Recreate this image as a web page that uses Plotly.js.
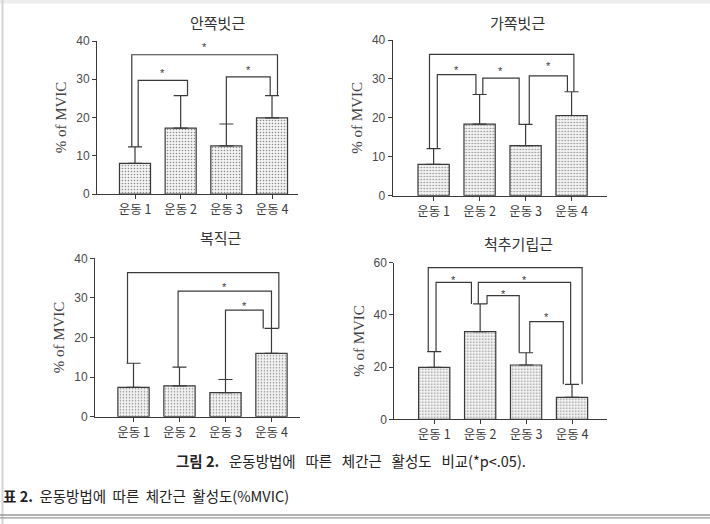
<!DOCTYPE html>
<html>
<head>
<meta charset="utf-8">
<script src="https://cdn.plot.ly/plotly-3.0.1.min.js"></script>
<style>
  html, body { margin: 0; padding: 0; background: #fff; }
  #chart { width: 710px; height: 524px; }
</style>
</head>
<body>
<div id="chart"></div>
<script>
// Exercise conditions (x categories) and muscle names (panel titles)
const categories = ['운동 1', '운동 2', '운동 3', '운동 4'];
const muscles = ['안쪽빗근', '가쪽빗근', '복직근', '척추기립근'];

// Mean %MVIC and standard deviation per exercise, one pair of arrays per muscle
const meanInternalOblique = [8.0, 17.2, 12.6, 19.9];
const sdInternalOblique   = [4.3, 8.5, 5.7, 5.8];
const meanExternalOblique = [8.05, 18.4, 12.85, 20.6];
const sdExternalOblique   = [4.05, 7.6, 5.45, 6.1];
const meanRectusAbdominis = [7.4, 7.8, 6.1, 16.0];
const sdRectusAbdominis   = [6.1, 4.7, 3.3, 6.3];
const meanErectorSpinae   = [19.9, 33.6, 20.8, 8.4];
const sdErectorSpinae     = [6.0, 10.6, 4.7, 5.0];

// Significant pairwise differences (*p<.05), as [from, to] category indexes
const sigInternalOblique = [[0, 3], [0, 1], [2, 3]];
const sigExternalOblique = [[0, 3], [0, 1], [1, 2], [2, 3]];
const sigRectusAbdominis = [[0, 3], [1, 3], [2, 3]];
const sigErectorSpinae   = [[0, 3], [0, 1], [1, 3], [1, 2], [2, 3]];

// Y-axis tick labels
const yTicks40 = [0, 10, 20, 30, 40];
const yTicks60 = [0, 20, 40, 60];

// Drawing geometry for each panel: pixel frame, x range, bracket placement
// (bracket: bar height, star height, leg offsets in category units)
const panels = [
  { mean: meanInternalOblique, sd: sdInternalOblique, sig: sigInternalOblique, ticks: yTicks40,
    frame: { l: 97, r: 298, b: 194, t: 41 }, xr: [-0.832, 3.569],
    brackets: [ { h: 36.4, star: 39.2, dl: -0.07, dr: 0.12 },
                { h: 29.7, star: 32.5, dl: 0.07, dr: 0.15 },
                { h: 30.6, star: 33.2, dl: 0.0, dr: -0.04 } ],
    title: { x: 218, y: 22 } },
  { mean: meanExternalOblique, sd: sdExternalOblique, sig: sigExternalOblique, ticks: yTicks40,
    frame: { l: 392.7, r: 606.7, b: 195.7, t: 40 }, xr: [-0.89, 3.764],
    brackets: [ { h: 36.3, star: 40.4, dl: -0.09, dr: 0.05 },
                { h: 31.1, star: 33.1, dl: 0.08, dr: -0.08 },
                { h: 30.2, star: 32.7, dl: 0.07, dr: -0.14 },
                { h: 30.8, star: 34.0, dl: 0.08, dr: -0.09 } ],
    title: { x: 517, y: 22 } },
  { mean: meanRectusAbdominis, sd: sdRectusAbdominis, sig: sigRectusAbdominis, ticks: yTicks40,
    frame: { l: 95, r: 300, b: 416.7, t: 258.3 }, xr: [-0.837, 3.62],
    brackets: [ { h: 36.4, star: 40.8, dl: -0.13, dr: 0.16 },
                { h: 31.7, star: 33.5, dl: -0.03, dr: 0.0 },
                { h: 26.9, star: 28.8, dl: 0.0, dr: -0.18 } ],
    title: { x: 221, y: 237 } },
  { mean: meanErectorSpinae, sd: sdErectorSpinae, sig: sigErectorSpinae, ticks: yTicks60,
    frame: { l: 394.3, r: 606.7, b: 419.3, t: 262.7 }, xr: [-0.869, 3.755],
    brackets: [ { h: 58.1, star: 62.6, dl: -0.13, dr: 0.22 },
                { h: 52.5, star: 54.4, dl: 0.04, dr: -0.19 },
                { h: 52.5, star: 54.4, dl: -0.04, dr: -0.03 },
                { h: 47.4, star: 49.2, dl: 0.15, dr: -0.15 },
                { h: 37.4, star: 40.2, dl: 0.08, dr: -0.19 } ],
    title: { x: 518, y: 243 } }
];

const W = 710, H = 524;
const px = x => x / W;
const py = y => 1 - y / H;

const ink = '#3a3a3a';
const tickFont = { family: 'Liberation Sans, Arial, sans-serif', size: 12, color: '#4a4a4a' };
const krFont = { family: 'Noto Sans CJK KR, sans-serif', size: 12.5, color: '#3a3a3a' };

const traces = [];
const annotations = [];
const layout = {
  width: W, height: H,
  margin: { l: 0, r: 0, t: 0, b: 0 },
  paper_bgcolor: '#fff', plot_bgcolor: 'rgba(0,0,0,0)',
  showlegend: false,
  annotations: annotations,
  shapes: []
};

const xIdx = categories.map((_, i) => i);

panels.forEach((p, k) => {
  const n = k + 1;
  const xa = 'x' + (n === 1 ? '' : n), ya = 'y' + (n === 1 ? '' : n);
  const xKey = 'xaxis' + (n === 1 ? '' : n), yKey = 'yaxis' + (n === 1 ? '' : n);
  const top = p.ticks[p.ticks.length - 1];

  layout[xKey] = {
    domain: [px(p.frame.l), px(p.frame.r)], anchor: ya,
    range: p.xr, tickvals: xIdx, ticktext: categories,
    showgrid: false, zeroline: false, showline: true, linecolor: ink, linewidth: 1,
    ticks: 'outside', ticklen: 4, tickcolor: ink, tickfont: krFont, fixedrange: true
  };
  layout[yKey] = {
    domain: [py(p.frame.b), py(p.frame.t)], anchor: xa,
    range: [0, top], tickvals: p.ticks,
    showgrid: false, zeroline: false, showline: true, linecolor: ink, linewidth: 1,
    ticks: 'outside', ticklen: 4, tickcolor: ink, tickfont: tickFont,
    title: { text: '% of MVIC', font: { family: 'Liberation Serif, Times New Roman, serif', size: 15, color: '#444' }, standoff: 5 },
    fixedrange: true
  };

  // bars with upper error bars
  traces.push({
    type: 'bar', x: xIdx, y: p.mean, xaxis: xa, yaxis: ya, width: 0.68,
    marker: {
      color: '#fff',
      line: { color: ink, width: 1.2 },
      pattern: { shape: '.', fgcolor: '#8c8c8c', bgcolor: '#f3f3f3', size: 3, solidity: 0.22 }
    },
    error_y: { type: 'data', symmetric: false, array: p.sd, arrayminus: p.sd.map(() => 0),
               color: ink, thickness: 1.2, width: 7 },
    hoverinfo: 'none'
  });

  // significance brackets, each leg resting on the error-bar top of its bar
  p.sig.forEach((pair, j) => {
    const g = p.brackets[j];
    const [a, b] = pair;
    const xl = a + g.dl, xr = b + g.dr;
    traces.push({
      type: 'scatter', mode: 'lines', xaxis: xa, yaxis: ya,
      x: [xl, xl, xr, xr],
      y: [p.mean[a] + p.sd[a], g.h, g.h, p.mean[b] + p.sd[b]],
      line: { color: ink, width: 1.2 }, cliponaxis: false, hoverinfo: 'none'
    });
    annotations.push({
      xref: xa, yref: ya, x: (xl + xr) / 2, y: g.star, text: '*', showarrow: false,
      xanchor: 'center', yanchor: 'middle', yshift: -3,
      font: { family: 'Liberation Sans, Arial, sans-serif', size: 11, color: ink }
    });
  });

  // panel title
  annotations.push({
    xref: 'paper', yref: 'paper', x: px(p.title.x), y: py(p.title.y), text: muscles[k],
    showarrow: false, xanchor: 'center', yanchor: 'middle',
    font: { family: 'Noto Sans CJK KR, sans-serif', size: 15, color: '#333' }
  });
});

// figure caption and table heading (wide word gaps as in the printed page)
const gap = ' \u00a0';
const wideGap = ' \u00a0\u00a0';
annotations.push({
  xref: 'paper', yref: 'paper', x: px(351), y: py(460),
  text: ['<b>그림 2.</b>', '운동방법에', '따른', '체간근', '활성도', '비교(*p&lt;.05).'].join(wideGap),
  showarrow: false, xanchor: 'center', yanchor: 'middle',
  font: { family: 'Noto Sans CJK KR, sans-serif', size: 14.5, color: '#222' }
});
annotations.push({
  xref: 'paper', yref: 'paper', x: px(1), y: py(495),
  text: ['<b>표 2.</b>', '운동방법에', '따른', '체간근', '활성도(%MVIC)'].join(gap),
  showarrow: false, xanchor: 'left', yanchor: 'middle',
  font: { family: 'Noto Sans CJK KR, sans-serif', size: 14.5, color: '#222' }
});
// table column headers (only their tops fit above the bottom edge)
const headerX = [183, 335, 484, 631];
muscles.forEach((m, i) => {
  annotations.push({
    xref: 'paper', yref: 'paper', x: px(headerX[i]), y: py(519.5), text: m,
    showarrow: false, xanchor: 'center', yanchor: 'top',
    font: { family: 'Noto Sans CJK KR, sans-serif', size: 13, color: '#333' }
  });
});

// page frame and table rule
layout.shapes.push(
  { type: 'rect', xref: 'paper', yref: 'paper', x0: 0, x1: 1, y0: py(3.5), y1: 1,
    fillcolor: '#ececec', line: { width: 0 } },
  { type: 'line', xref: 'paper', yref: 'paper', x0: px(2.5), x1: px(2.5), y0: 0, y1: 1,
    line: { color: '#d4d4d4', width: 2 } },
  { type: 'line', xref: 'paper', yref: 'paper', x0: 0, x1: 1, y0: py(515), y1: py(515),
    line: { color: '#9a9a9a', width: 1.3 } },
  { type: 'line', xref: 'paper', yref: 'paper', x0: 0, x1: 1, y0: py(517.8), y1: py(517.8),
    line: { color: '#9a9a9a', width: 1.3 } }
);

Plotly.newPlot('chart', traces, layout, { staticPlot: true, displayModeBar: false });
</script>
</body>
</html>
